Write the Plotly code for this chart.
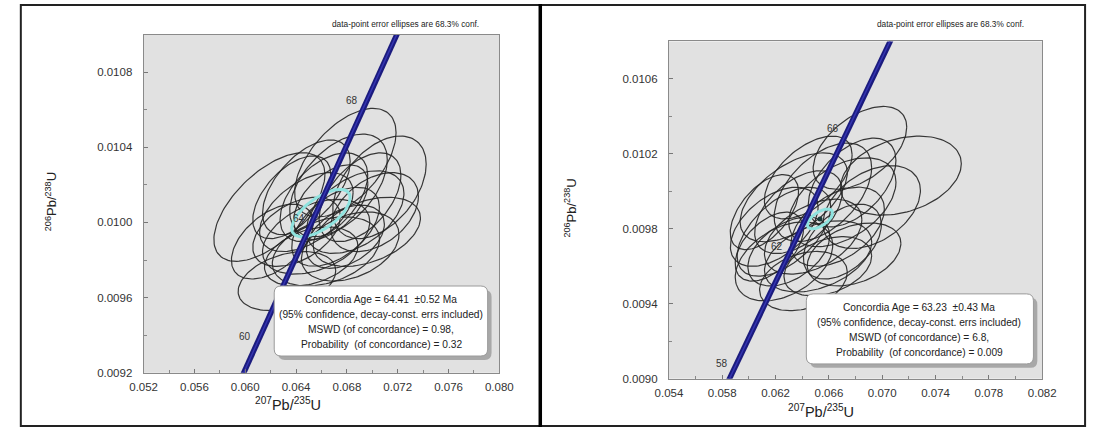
import numpy as np
import plotly.graph_objects as go

W, H = 1102, 435

# ---------------- data ----------------
# concordia curve points (age in Ma, 207Pb/235U, 206Pb/238U)
conc_age = [56, 58, 60, 62, 64, 66, 68, 70, 72]
conc_x = [0.056701, 0.058784, 0.060872, 0.062963, 0.065059, 0.067159, 0.069263, 0.071371, 0.073484]
conc_y = [0.0087248, 0.0090379, 0.0093510, 0.0096642, 0.0099774, 0.0102909, 0.0106043, 0.0109180, 0.0112316]

left_age_labels = [60, 64, 68]
right_age_labels = [58, 62, 66]

# left sample: ellipse centres, half-extents and error correlation
left_x = [0.06788, 0.06734, 0.07056, 0.06190, 0.06328, 0.06957, 0.06481, 0.06619, 0.06865, 0.06558, 0.06711,
          0.06404, 0.06826, 0.06519, 0.06673, 0.06903, 0.06366, 0.07018, 0.06635, 0.06481, 0.06788, 0.06213]
left_y = [0.010318, 0.010197, 0.010187, 0.010082, 0.009688, 0.009950, 0.010055, 0.010134, 0.010055, 0.009924, 0.009977,
          0.009950, 0.009872, 0.009819, 0.010108, 0.010134, 0.010134, 0.010055, 0.009846, 0.010187, 0.009924, 0.009898]
left_sx = [0.00399, 0.00384, 0.00368, 0.00437, 0.00384, 0.00422, 0.00368, 0.00345, 0.00384, 0.00422, 0.00345,
           0.00345, 0.00384, 0.00368, 0.00292, 0.00322, 0.00307, 0.00345, 0.00422, 0.00345, 0.00307, 0.00322]
left_sy = [0.000289, 0.000273, 0.000273, 0.000289, 0.000157, 0.000184, 0.000210, 0.000236, 0.000220, 0.000199, 0.000210,
           0.000184, 0.000184, 0.000157, 0.000199, 0.000236, 0.000220, 0.000210, 0.000184, 0.000252, 0.000168, 0.000199]
left_rho = [0.55, 0.5, 0.45, 0.6, 0.35, 0.4, 0.5, 0.5, 0.45, 0.4, 0.5,
            0.45, 0.35, 0.35, 0.5, 0.5, 0.55, 0.4, 0.35, 0.55, 0.4, 0.5]
left_mean = dict(x=0.06596, y=0.010050, sx=0.00230, sy=0.000126, rho=0.65)

# right sample
right_x = [0.06833, 0.07140, 0.06336, 0.06555, 0.06701, 0.06263, 0.06409, 0.06789, 0.06190, 0.06482, 0.06372,
           0.06665, 0.06116, 0.06921, 0.06445, 0.06299, 0.06592, 0.06774, 0.06263, 0.06519, 0.06153, 0.06701]
right_y = [0.010232, 0.010084, 0.009968, 0.009995, 0.009942, 0.009626, 0.009521, 0.009663, 0.009811, 0.009758, 0.009889,
           0.009811, 0.009889, 0.009916, 0.010074, 0.009679, 0.009600, 0.010047, 0.009784, 0.009653, 0.009705, 0.009732]
right_sx = [0.003509, 0.004533, 0.004021, 0.003655, 0.004021, 0.003655, 0.003290, 0.003509, 0.003290, 0.003655, 0.003290,
            0.003509, 0.002560, 0.003655, 0.003290, 0.003070, 0.003290, 0.003290, 0.003509, 0.004021, 0.002559, 0.002924]
right_sy = [0.000221, 0.000211, 0.000237, 0.000263, 0.000237, 0.000211, 0.000158, 0.000168, 0.000211, 0.000200, 0.000221,
            0.000211, 0.000200, 0.000221, 0.000221, 0.000184, 0.000158, 0.000237, 0.000237, 0.000190, 0.000184, 0.000200]
right_rho = [0.5, 0.3, 0.55, 0.5, 0.45, 0.4, 0.3, 0.35, 0.5, 0.45, 0.5,
             0.45, 0.55, 0.4, 0.55, 0.45, 0.35, 0.5, 0.55, 0.4, 0.5, 0.45]
right_mean = dict(x=0.065331, y=0.0098526, sx=0.00095, sy=0.0000526, rho=0.6)

left_xticks = [0.052, 0.056, 0.060, 0.064, 0.068, 0.072, 0.076, 0.080]
left_yticks = [0.0092, 0.0096, 0.0100, 0.0104, 0.0108]
right_xticks = [0.054, 0.058, 0.062, 0.066, 0.070, 0.074, 0.078, 0.082]
right_yticks = [0.0090, 0.0094, 0.0098, 0.0102, 0.0106]

left_box = ["Concordia Age = 64.41  \u00b10.52 Ma",
            "(95% confidence, decay-const. errs included)",
            "MSWD (of concordance) = 0.98,",
            "Probability  (of concordance) = 0.32"]
right_box = ["Concordia Age = 63.23  \u00b10.43 Ma",
             "(95% confidence, decay-const. errs included)",
             "MSWD (of concordance) = 6.8,",
             "Probability  (of concordance) = 0.009"]
note = "data-point error ellipses are 68.3% conf."

FONT = "Arial, Liberation Sans, sans-serif"

# ---------------- helpers ----------------
t = np.linspace(0, 2 * np.pi, 121)


def ellipse_pts(cx, cy, sx, sy, rho):
    ex = cx + sx * np.cos(t)
    ey = cy + sy * (rho * np.cos(t) + np.sqrt(1 - rho ** 2) * np.sin(t))
    return ex, ey


def ellipse_trace(xs, ys, sxs, sys_, rhos, xa, ya, color, width):
    X, Y = [], []
    for cx, cy, sx, sy, r in zip(xs, ys, sxs, sys_, rhos):
        ex, ey = ellipse_pts(cx, cy, sx, sy, r)
        X += list(ex) + [None]
        Y += list(ey) + [None]
    return go.Scatter(x=X, y=Y, mode="lines", line=dict(color=color, width=width),
                      xaxis=xa, yaxis=ya, hoverinfo="skip")


def px(x):
    return x / W


def py(y):
    return 1 - y / H


def rounded(x0, y0, x1, y1, r):
    # rounded rectangle path in paper coordinates from pixel corners
    rx, ry = r / W, r / H
    a, b, c, d = px(x0), py(y0), px(x1), py(y1)  # b top, d bottom (paper)
    return (f"M {a+rx},{b} L {c-rx},{b} Q {c},{b} {c},{b-ry} L {c},{d+ry} Q {c},{d} {c-rx},{d} "
            f"L {a+rx},{d} Q {a},{d} {a},{d+ry} L {a},{b-ry} Q {a},{b} {a+rx},{b} Z")


fig = go.Figure()

for (xs, ys, sxs, sys_, rhos, mean, xa, ya) in [
        (left_x, left_y, left_sx, left_sy, left_rho, left_mean, "x", "y"),
        (right_x, right_y, right_sx, right_sy, right_rho, right_mean, "x2", "y2")]:
    fig.add_trace(ellipse_trace(xs, ys, sxs, sys_, rhos, xa, ya, "rgba(35,35,35,0.9)", 1.2))
    fig.add_trace(ellipse_trace([mean["x"]], [mean["y"]], [mean["sx"]], [mean["sy"]], [mean["rho"]],
                                xa, ya, "#8fe3df", 3))
    fig.add_trace(go.Scatter(x=conc_x, y=conc_y, mode="lines", line=dict(color="#1b1b7e", width=5.5),
                             xaxis=xa, yaxis=ya, hoverinfo="skip"))
    fig.add_trace(go.Scatter(x=conc_x, y=conc_y, mode="lines", line=dict(color="#3434b0", width=1.5),
                             xaxis=xa, yaxis=ya, hoverinfo="skip"))

# small dark mark at the centre of the right-hand mean ellipse
fig.add_trace(go.Scatter(x=[right_mean["x"]], y=[right_mean["y"]], mode="markers",
                         marker=dict(color="#1a3a3a", size=5), xaxis="x2", yaxis="y2", hoverinfo="skip"))

annotations = []
for ages, xa, ya in [(left_age_labels, "x", "y"), (right_age_labels, "x2", "y2")]:
    for a in ages:
        i = conc_age.index(a)
        annotations.append(dict(x=conc_x[i], y=conc_y[i], xref=xa, yref=ya, text=str(a), showarrow=False,
                                xshift=-11, yshift=8, font=dict(size=10, color="#333", family=FONT)))


def box_lines(lines, cx, ys):
    for s, yy in zip(lines, ys):
        annotations.append(dict(x=px(cx), y=py(yy), xref="paper", yref="paper", text=s, showarrow=False,
                                xanchor="center", yanchor="middle",
                                font=dict(size=10.2, color="#222", family=FONT)))


box_lines(left_box, 377, [304, 319, 334, 349])
box_lines(right_box, 929, [312, 327, 342, 357])

for xr, yy in [(479, 24), (1038, 24)]:
    annotations.append(dict(x=px(xr), y=py(yy), xref="paper", yref="paper", text=note, showarrow=False,
                            xanchor="right", yanchor="middle", font=dict(size=8.3, color="#222", family=FONT)))

xt = "<sup>207</sup>Pb/<sup>235</sup>U"
yt = "<sup>206</sup>Pb/<sup>238</sup>U"
for (x, y) in [(281, 410), (828, 417)]:
    annotations.append(dict(x=px(x), y=py(y), xref="paper", yref="paper", text=xt, showarrow=False,
                            xanchor="center", yanchor="middle", font=dict(size=14.5, color="#222", family=FONT)))
for (x, y) in [(38, 205), (571, 211)]:
    annotations.append(dict(x=px(x), y=py(y), xref="paper", yref="paper", text=yt, showarrow=False,
                            textangle=-90, xanchor="center", yanchor="middle",
                            font=dict(size=13, color="#222", family=FONT)))

shapes = []
# boxes with shadow
for (x0, y0, x1, y1) in [(267, 290, 486, 361), (813, 298, 1046, 369)]:
    shapes.append(dict(type="path", path=rounded(x0 + 4, y0 + 4, x1 + 4, y1 + 4, 7), xref="paper", yref="paper",
                       fillcolor="#a8a8a8", line=dict(width=0), layer="above"))
    shapes.append(dict(type="path", path=rounded(x0, y0, x1, y1, 7), xref="paper", yref="paper",
                       fillcolor="white", line=dict(color="#9a9a9a", width=1), layer="above"))
# panel frames
shapes.append(dict(type="rect", x0=px(7), x1=px(540), y0=py(432), y1=py(5), xref="paper", yref="paper",
                   line=dict(color="#222", width=2), layer="above"))
shapes.append(dict(type="rect", x0=px(540), x1=px(1099), y0=py(432), y1=py(5), xref="paper", yref="paper",
                   line=dict(color="#222", width=2), layer="above"))
shapes.append(dict(type="line", x0=px(540), x1=px(540), y0=py(433), y1=py(4), xref="paper", yref="paper",
                   line=dict(color="black", width=3.5), layer="above"))


def axis(domain, rng, ticks, fmt, minor_dtick, anchor, standoff):
    return dict(domain=domain, range=rng, tickvals=ticks, tickformat=fmt, ticks="inside", ticklen=4,
                tickcolor="#777", showgrid=False, zeroline=False, showline=True, linecolor="#8a8a8a",
                linewidth=1, mirror=True, anchor=anchor, fixedrange=True, ticklabelstandoff=standoff,
                tickfont=dict(size=11.5, color="#333", family=FONT),
                minor=dict(ticks="inside", ticklen=3, dtick=minor_dtick, tickcolor="#888"))


fig.update_layout(
    width=W, height=H, margin=dict(l=0, r=0, t=0, b=0),
    paper_bgcolor="white", plot_bgcolor="#e1e1e1", showlegend=False,
    xaxis=axis([133 / W, 498 / W], [0.052, 0.080], left_xticks, ".3f", 0.002, "y", 3),
    yaxis=axis([(H - 378) / H, (H - 35) / H], [0.0092, 0.0110], left_yticks, ".4f", 0.0002, "x", 8),
    xaxis2=axis([672 / W, 1055 / W], [0.054, 0.082], right_xticks, ".3f", 0.002, "y2", 3),
    yaxis2=axis([(H - 384) / H, (H - 42) / H], [0.0090, 0.0108], right_yticks, ".4f", 0.0002, "x2", 8),
    annotations=annotations, shapes=shapes,
)

fig.write_html("out.html")
